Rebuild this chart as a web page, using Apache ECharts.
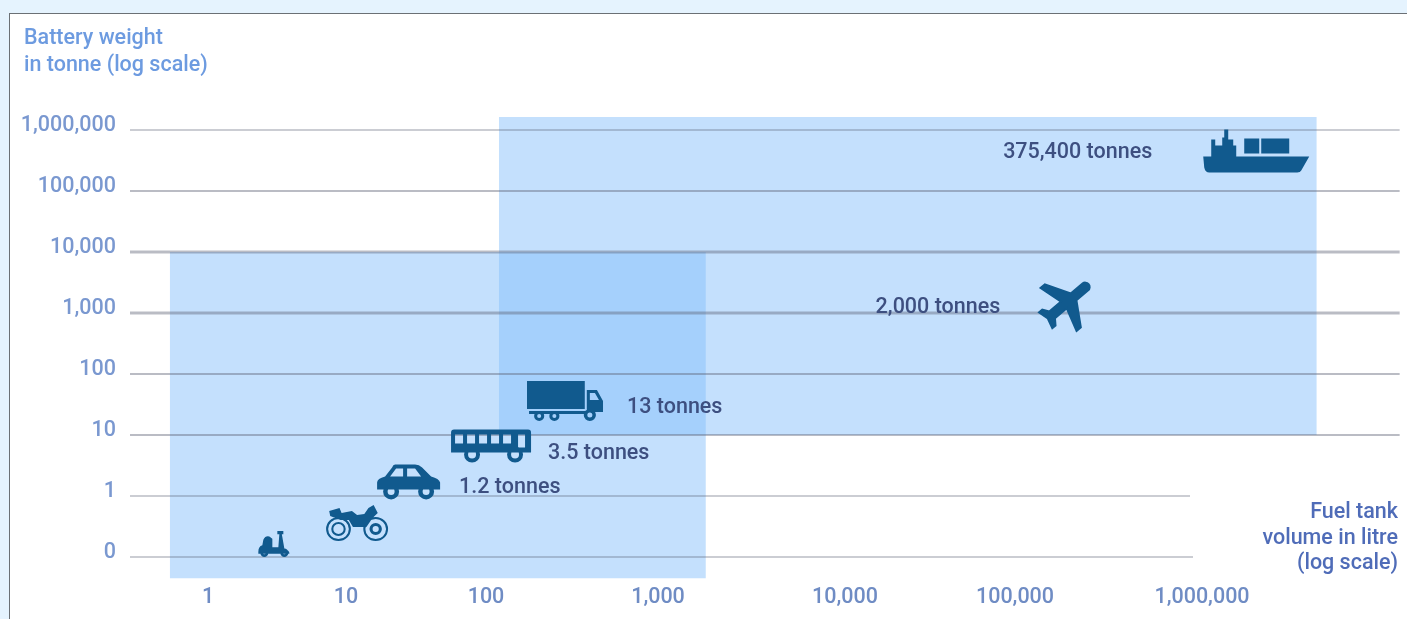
<!DOCTYPE html>
<html>
<head>
<meta charset="utf-8">
<style>
  html, body { margin: 0; height: 100%; background: #e5f3fe; overflow: hidden; }
  #panel { position: absolute; left: 9px; top: 13px; right: 0; bottom: 0; background: #fff; border-top: 1px solid #6b7075; border-left: 1px solid #6b7075; }
  #chart { position: absolute; left: 0; top: 0; width: 1407px; height: 619px; }
</style>
</head>
<body>
<div id="panel"></div>
<div id="chart"></div>
<script src="https://cdn.jsdelivr.net/npm/echarts@6/dist/echarts.min.js"></script>
<script>
// tick labels
const weightTickLabels = ['0', '1', '10', '100', '1,000', '10,000', '100,000', '1,000,000']
const weightTicks = [0.1, 1, 10, 100, 1000, 10000, 100000, 1000000]
const volumeTickLabels = ['1', '10', '100', '1,000', '10,000', '100,000', '1,000,000']

// vehicles, values read at the centre of each icon
const vehicleNames = ['scooter', 'motorbike', 'car', 'bus', 'truck', 'plane', 'ship']
const fuelTankLitres = [3, 12, 28, 107, 288, 190000, 1950000]
const batteryTonnes = [0.163, 0.36, 1.7, 6.6, 36, 1500, 453000]
const weightLabels = ['', '', '1.2 tonnes', '3.5 tonnes', '13 tonnes', '2,000 tonnes', '375,400 tonnes']

// shaded ranges: litres from, litres to, tonnes from, tonnes to
const roadRange = [0.53, 1800, 0.045, 10000]
const shipPlaneRange = [119, 4100000, 10, 1630000]

// how far each grid line runs, in litres
const gridLineEnds = [895000, 863000, 11400000, 11400000, 11400000, 11400000, 11400000, 11400000]

// the decades on the source x axis are not evenly spaced
const xTickPositions = [78, 216, 356, 528, 715, 885, 1072]
const toAxisX = (litres) => {
  const d = Math.log10(litres)
  const i = Math.max(0, Math.min(5, Math.floor(d)))
  return xTickPositions[i] + (d - i) * (xTickPositions[i + 1] - xTickPositions[i])
}

const ring = (x, y, r) => `M${x - r} ${y}a${r} ${r} 0 1 1 ${2 * r} 0a${r} ${r} 0 1 1 ${-2 * r} 0Z`
const hole = (x, y, r) => `M${x - r} ${y}a${r} ${r} 0 1 0 ${2 * r} 0a${r} ${r} 0 1 0 ${-2 * r} 0Z`

const icons = {
  scooter: 'path://M5 9Q7 5 11 6L14 8V16H20L21 4H19V1H25V4H23.5L26 17Q30 18 31 21V22H0V20Q0 15 4 14Z'
    + ring(6, 21, 4) + hole(6, 21, 1.5) + ring(26, 21, 4) + hole(26, 21, 1.5),
  motorbike: 'path://M4 6L14 3L16 8L26 6L31 10L38 9L42 3L47 0L51 8L46 13L40 22H27L23 15H15L5 11Z'
    + ring(13, 24, 12) + hole(13, 24, 10) + ring(13, 24, 7) + hole(13, 24, 5)
    + ring(49, 24, 12) + hole(49, 24, 10) + ring(49, 24, 6) + hole(49, 24, 3),
  car: 'path://M18 0H38Q42 0 45 3L54 12Q62 14 63 18V25H0V18Q0 14 8 12L15 3Q16 0 18 0Z'
    + 'M19 4L13 12H26V4ZM30 4V12H44L38 4Z'
    + ring(14, 27, 8) + hole(14, 27, 3.5) + ring(49, 27, 8) + hole(49, 27, 3.5),
  bus: 'path://M3 0H77Q80 0 80 3V23H0V3Q0 0 3 0Z'
    + 'M4 5V14H12V5ZM16 5V14H24V5ZM28 5V14H36V5ZM40 5V14H48V5ZM52 5V14H60V5ZM67 5V18H74V5Z'
    + ring(21, 25, 8) + hole(21, 25, 4) + ring(64, 25, 8) + hole(64, 25, 4),
  truck: 'path://M0 0H57V28H0ZM59 9H69L75 20V31H59ZM62 12V19H71L67 12ZM2 30H59V33H2Z'
    + ring(12, 35, 5) + hole(12, 35, 2) + ring(27, 35, 5) + hole(27, 35, 2) + ring(62, 34, 6) + hole(62, 34, 2.5),
  plane: 'path://M21 16v-2l-8-5V3.5c0-.83-.67-1.5-1.5-1.5S10 2.67 10 3.5V9l-8 5v2l8-2.5V19l-2 1.5V22l3.5-1 3.5 1v-1.5L13 19v-5.5l8 2.5z',
  ship: 'path://M0 27H8V10H12V16H19V8H21V0H25V10H30V16H33V27H106L98 41Q97 43 94 43H6Q2 43 1 38Z'
    + 'M41 9H56V24H41ZM58 9H86V24H58Z'
}
const iconSizes = [[31, 26], [62, 36], [63, 35], [80, 33], [76, 40], [56, 56], [106, 43]]
const iconRotate = [0, 0, 0, 0, 0, -50, 0]
const iconOutline = [0, 0, 0, 0, 0, 2, 0]
const labelPlace = [
  { position: 'right', distance: 0, offset: [0, 0] },
  { position: 'right', distance: 0, offset: [0, 0] },
  { position: 'right', distance: 19, offset: [0, 6] },
  { position: 'right', distance: 17, offset: [0, 8] },
  { position: 'right', distance: 24, offset: [0, 7] },
  { position: 'left', distance: 26, offset: [0, 5] },
  { position: 'left', distance: 51, offset: [0, 2] }
]

const fontFamily = 'Roboto, sans-serif'
const fontSize = 21.5

const options = {
  animation: false,
  backgroundColor: 'transparent',
  tooltip: { show: false },
  legend: { show: false },
  title: {
    text: 'Battery weight\nin tonne (log scale)',
    left: 19,
    top: 20,
    textStyle: { color: '#6d9be0', fontFamily, fontSize, fontWeight: 500, lineHeight: 27 }
  },
  graphic: {
    type: 'text',
    x: 1398,
    y: 500,
    style: {
      text: 'Fuel tank\nvolume in litre\n(log scale)',
      align: 'right',
      fill: '#4f6cb8',
      fontFamily,
      fontSize,
      fontWeight: 500,
      lineHeight: 25.5
    }
  },
  grid: { left: 130, top: 69, width: 1270, height: 549 },
  xAxis: {
    type: 'value',
    min: 0,
    max: 1270,
    axisLine: { show: false },
    axisTick: { show: false },
    splitLine: { show: false },
    axisLabel: {
      inside: true,
      margin: 9,
      customValues: xTickPositions,
      formatter: (v) => volumeTickLabels[xTickPositions.indexOf(v)],
      color: '#6f8cc4',
      fontFamily,
      fontSize,
      fontWeight: 500
    }
  },
  yAxis: {
    type: 'log',
    logBase: 10,
    min: 0.01,
    max: 10000000,
    axisLine: { show: false },
    axisTick: { show: false },
    splitLine: { show: false },
    axisLabel: {
      margin: 14,
      verticalAlign: 'bottom',
      lineHeight: 8,
      customValues: weightTicks,
      formatter: (v) => weightTickLabels[Math.round(Math.log10(v)) + 1],
      color: '#7a98d0',
      fontFamily,
      fontSize,
      fontWeight: 500
    }
  },
  series: [
    {
      type: 'custom',
      silent: true,
      z: 1,
      data: [roadRange, shipPlaneRange].map((r) => [toAxisX(r[0]), toAxisX(r[1]), r[2], r[3]]),
      renderItem: (params, api) => {
        const a = api.coord([api.value(0), api.value(3)])
        const b = api.coord([api.value(1), api.value(2)])
        return {
          type: 'rect',
          shape: { x: a[0], y: a[1], width: b[0] - a[0], height: b[1] - a[1] },
          style: { fill: 'rgba(130,190,250,0.47)' }
        }
      }
    },
    {
      type: 'custom',
      silent: true,
      z: 2,
      data: weightTicks.map((t, i) => [toAxisX(gridLineEnds[i]), t]),
      renderItem: (params, api) => {
        const a = api.coord([0, api.value(1)])
        const b = api.coord([api.value(0), api.value(1)])
        const wide = [1.5, 1.5, 2, 2, 3, 3, 2, 1.5]
        return {
          type: 'line',
          shape: { x1: a[0], y1: a[1], x2: b[0], y2: b[1] },
          style: { stroke: 'rgba(90,95,115,0.42)', lineWidth: wide[params.dataIndex] }
        }
      }
    },
    {
      type: 'scatter',
      z: 3,
      silent: true,
      data: vehicleNames.map((name, i) => ({
        name,
        value: [toAxisX(fuelTankLitres[i]), batteryTonnes[i]],
        symbol: icons[name],
        symbolSize: iconSizes[i],
        symbolRotate: iconRotate[i],
        symbolKeepAspect: false,
        itemStyle: { color: '#115a8e', opacity: 1, borderColor: '#115a8e', borderWidth: iconOutline[i] },
        label: {
          show: weightLabels[i] !== '',
          formatter: weightLabels[i],
          color: '#3d4f80',
          fontFamily,
          fontSize,
          fontWeight: 500,
          ...labelPlace[i]
        }
      }))
    }
  ]
}

const chartInstance = echarts.init(document.getElementById('chart'))
chartInstance.setOption(options)
</script>
</body>
</html>
